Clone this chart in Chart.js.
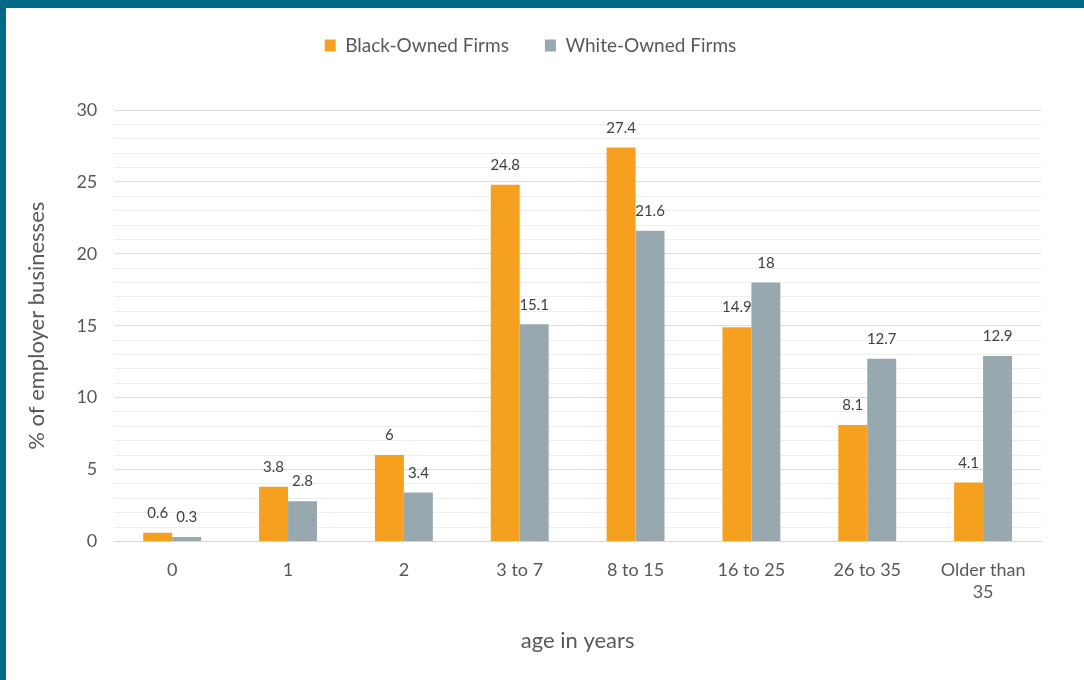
<!DOCTYPE html>
<html>
<head>
<meta charset="utf-8">
<script src="https://cdn.jsdelivr.net/npm/chart.js@4"></script>
<style>
  html, body { margin: 0; padding: 0; background: #006a86; }
  #wrap { position: absolute; left: 6px; top: 8px; width: 1078px; height: 672px; background: #fff; overflow: hidden; }
  #chart-1 { position: absolute; left: 0; top: -8px; }
</style>
</head>
<body>
<div id="wrap"><canvas id="chart-1" width="1078" height="680"></canvas></div>
<script>
const ageGroups = ['0', '1', '2', '3 to 7', '8 to 15', '16 to 25', '26 to 35', ['Older than', '35']];
const blackOwned = [0.6, 3.8, 6, 24.8, 27.4, 14.9, 8.1, 4.1];
const whiteOwned = [0.3, 2.8, 3.4, 15.1, 21.6, 18, 12.7, 12.9];
const yTicks = [0, 5, 10, 15, 20, 25, 30];

const textGrey = '#595959';
const fontName = 'Lato, "Open Sans", sans-serif';

// little value labels above each bar
const valueLabels = {
    id: 'valueLabels',
    afterDatasetsDraw(chart) {
        const ctx = chart.ctx;
        ctx.save();
        ctx.font = '15px ' + fontName;
        ctx.fillStyle = '#404040';
        ctx.textAlign = 'center';
        ctx.textBaseline = 'bottom';
        chart.data.datasets.forEach((ds, i) => {
            chart.getDatasetMeta(i).data.forEach((bar, j) => {
                ctx.fillText(String(ds.data[j]), bar.x, bar.y - 12);
            });
        });
        ctx.restore();
    }
};

// extra room under the legend
const legendGap = {
    id: 'legendGap',
    beforeInit(chart) {
        const fit = chart.legend.fit;
        chart.legend.fit = function () {
            fit.bind(this)();
            this.height += 45;
        };
    }
};

new Chart(document.querySelector('#chart-1'), {
    type: 'bar',
    data: {
        labels: ageGroups,
        datasets: [{
            label: 'Black-Owned Firms',
            data: blackOwned,
            backgroundColor: '#f5a11f'
        }, {
            label: 'White-Owned Firms',
            data: whiteOwned,
            backgroundColor: '#97a9af'
        }]
    },
    options: {
        responsive: false,
        animation: false,
        layout: { padding: { left: 14, right: 43, top: 0, bottom: 22 } },
        datasets: { bar: { categoryPercentage: 0.5, barPercentage: 1 } },
        plugins: {
            legend: {
                labels: {
                    boxWidth: 11, boxHeight: 12, padding: 36,
                    color: textGrey, font: { family: fontName, size: 19 }
                }
            },
            tooltip: { enabled: false }
        },
        scales: {
            x: {
                grid: { display: false },
                border: { color: '#d6d6d6' },
                ticks: { color: textGrey, font: { family: fontName, size: 18 }, padding: 10 },
                title: {
                    display: true, text: 'age in years', color: textGrey,
                    font: { family: fontName, size: 22 }, padding: { top: 15 }
                }
            },
            y: {
                min: 0, max: 30,
                border: { display: false },
                grid: {
                    color: c => yTicks.includes(c.tick.value) ? '#dcdcdc' : '#efefef',
                    drawTicks: false
                },
                ticks: {
                    stepSize: 1, autoSkip: false, padding: 17,
                    color: textGrey, font: { family: fontName, size: 18 },
                    callback: v => yTicks.includes(v) ? v : ''
                },
                title: {
                    display: true, text: '% of employer businesses', color: textGrey,
                    font: { family: fontName, size: 22 }, padding: { bottom: 9 }
                }
            }
        }
    },
    plugins: [valueLabels, legendGap]
});
</script>
</body>
</html>
